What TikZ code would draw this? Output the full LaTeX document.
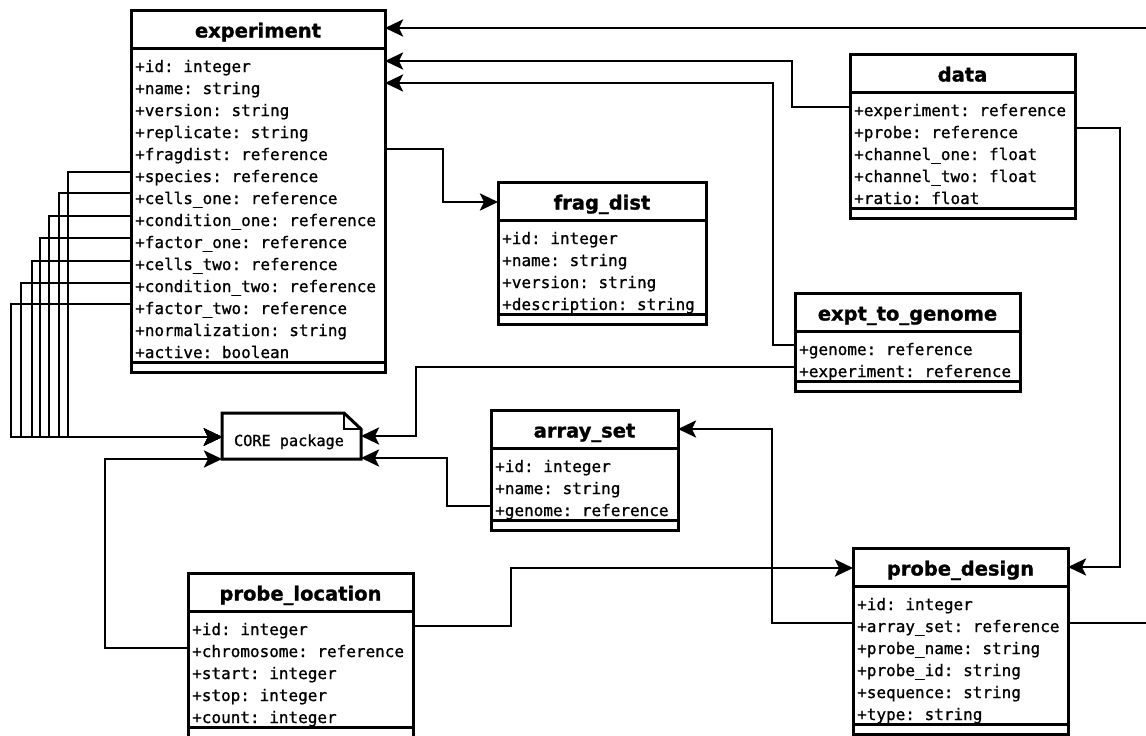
\documentclass[tikz,border=0pt]{standalone}
\usepackage{fontspec}
\setmainfont{DejaVu Sans}
\setsansfont{DejaVu Sans}[BoldFeatures={FakeBold=1.2}]
\setmonofont{DejaVu Sans Mono}[FakeBold=1]
\usetikzlibrary{arrows.meta}
\tikzset{
  frame/.style={line width=3pt, draw=black},
  classframe/.style={frame, fill=white, rectangle, inner sep=0pt, outer sep=0pt},
  classtitle/.style={inner sep=0pt, font=\fontsize{19.5pt}{22pt}\selectfont\sffamily\bfseries},
  attr/.style={inner sep=0pt, font=\fontsize{16pt}{22pt}\selectfont\ttfamily},
  conn/.style={line width=2.8pt, draw=black, -{Stealth[length=18pt,width=17pt,inset=4pt]}},
}
% #1 node name, #2 title, #3 left, #4 top, #5 right, #6 number of rows, #7 rows
\newcommand{\umlclass}[7]{%
  \pgfmathsetmacro\hb{#4+38}%
  \pgfmathsetmacro\sepy{\hb+22*#6+6}%
  \pgfmathsetmacro\boty{\sepy+10}%
  \node[classframe, anchor=north west, minimum width={(#5-#3)*1pt}, minimum height={(\boty-#4)*1pt}] (#1) at (#3,#4) {};
  \draw[frame] (#3,\hb) -- (#5,\hb) (#3,\sepy) -- (#5,\sepy);
  \node[classtitle, anchor=base] (#1-title) at ({(#3+#5)/2},\hb-10.5) {#2};
  \foreach \r [count=\i] in {#7} {\node[attr, anchor=base west] (#1-\i) at (#3+4,\hb+22*\i+2) {\r};}
}
\begin{document}
\begin{tikzpicture}[x=1pt,y=-1pt]
\useasboundingbox[fill=white] (0,0) rectangle (1146,736);

\umlclass{exp}{experiment}{131}{10}{385}{14}{+id: integer,+name: string,+version: string,+replicate: string,+fragdist: reference,+species: reference,+cells\_one: reference,+condition\_one: reference,+factor\_one: reference,+cells\_two: reference,+condition\_two: reference,+factor\_two: reference,+normalization: string,+active: boolean}
\umlclass{frag}{frag\_dist}{498}{182}{706}{4}{+id: integer,+name: string,+version: string,+description: string}
\umlclass{data}{data}{850}{54}{1075}{5}{+experiment: reference,+probe: reference,+channel\_one: float,+channel\_two: float,+ratio: float}
\umlclass{etg}{expt\_to\_genome}{795}{293}{1020}{2}{+genome: reference,+experiment: reference}
\umlclass{as}{array\_set}{491}{410}{678}{3}{+id: integer,+name: string,+genome: reference}
\umlclass{pd}{probe\_design}{853}{548}{1068}{6}{+id: integer,+array\_set: reference,+probe\_name: string,+probe\_id: string,+sequence: string,+type: string}
\umlclass{pl}{probe\_location}{188}{573}{413}{5}{+id: integer,+chromosome: reference,+start: integer,+stop: integer,+count: integer}

% CORE package note
\node[rectangle, minimum width=139pt, minimum height=46pt, inner sep=0pt, outer sep=0pt] (core) at (291.5,436) {};
\draw[frame, fill=white] (core.south west) -- (core.north west) -- ([xshift=-17pt]core.north east) -- ([yshift=-16pt]core.north east) -- (core.south east) -- cycle;
\draw[line width=1.5pt] ([xshift=-17pt]core.north east) -- ([xshift=-17pt,yshift=-16pt]core.north east) -- ([yshift=-16pt]core.north east);
\node[attr, font=\fontsize{15.2pt}{18pt}\selectfont\ttfamily, anchor=base] (coretext) at (289,446) {CORE package};

% connectors
\draw[conn] (pd.east |- 0,623) -- (1156,623) |- (exp.east |- 0,28);
\draw[conn] (data.west |- 0,107) -- (792,107) |- (exp.east |- 0,61);
\draw[conn] (etg.west |- 0,345) -- (773,345) |- (exp.east |- 0,83);
\draw[conn] (exp.east |- 0,149) -- (443,149) |- (frag.west |- 0,202);
\draw[conn] (data.east |- 0,128) -- (1120,128) |- (pd.east |- 0,567);
\draw[conn] (pl.east |- 0,626) -- (511,626) |- (pd.west |- 0,568);
\draw[conn] (pd.west |- 0,623) -- (772,623) |- (as.east |- 0,429);
\draw[conn] (as.west |- 0,506) -- (447,506) |- (core.east |- 0,458);
\draw[conn] (etg.west |- 0,367) -- (416,367) |- (core.east |- 0,436);
\draw[conn] (pl.west |- 0,648) -- (105,648) |- (core.west |- 0,459);
\foreach \yy/\xx in {172/68,193/59,216/49,238/40,261/32,283/21,304/11}{
  \draw[conn] (exp.west |- 0,\yy) -| (\xx,437) -- (core.west |- 0,437);
}
\end{tikzpicture}
\end{document}
